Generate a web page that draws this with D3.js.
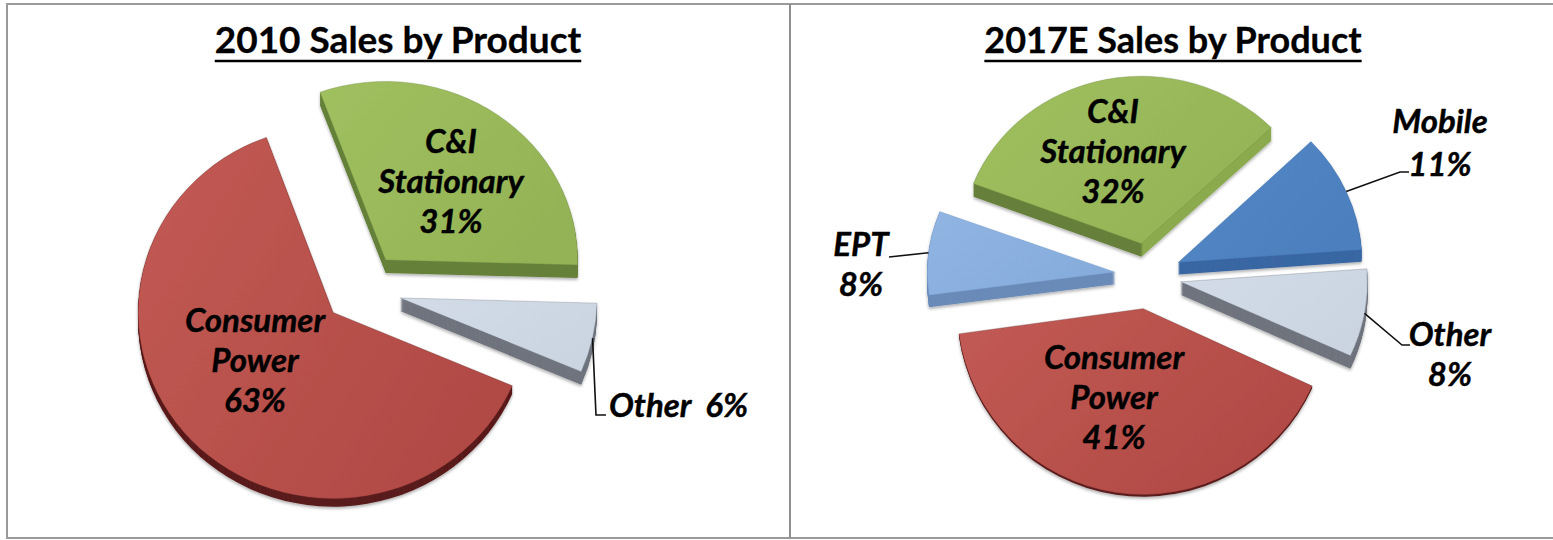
<!DOCTYPE html>
<html>
<head>
<meta charset="utf-8">
<title>Sales by Product</title>
<script src="https://cdn.jsdelivr.net/npm/d3@7"></script>
<style>
    html, body { margin: 0; padding: 0; background: #fff; }
    svg { display: block; }
    .title { font: bold 37px Lato, sans-serif; text-anchor: middle; fill: #000; stroke: #000; stroke-width: 0.3; }
    .label { font: italic bold 33px Lato, sans-serif; text-anchor: middle; fill: #000; stroke: #000; stroke-width: 0.4; }
    .leader { fill: none; stroke: #111; stroke-width: 1.6; }
</style>
</head>
<body>
<svg id="chart" width="1553" height="540"></svg>
<script>
var categories2010 = ['C&I Stationary', 'Other', 'Consumer Power'];
var values2010 = [31, 6, 63];

var categories2017 = ['C&I Stationary', 'Mobile', 'Other', 'Consumer Power', 'EPT'];
var values2017 = [32, 11, 8, 41, 8];

var palette = {
    'C&I Stationary': { light: '#a0c05f', dark: '#93b356', side: '#66803a' },
    'Other': { light: '#d2dbe7', dark: '#cbd5e2', side: '#6f747e' },
    'Consumer Power': { light: '#c25a54', dark: '#b14a45', side: '#5a1b1b' },
    'Mobile': { light: '#5487c6', dark: '#4c7fbd', side: '#3a67a3' },
    'EPT': { light: '#90b5e3', dark: '#86acdc', side: '#6a8bb8' }
};

var svg = d3.select('#chart');
var defs = svg.append('defs');

var shadow = defs.append('filter')
    .attr('id', 'shadow')
    .attr('x', '-10%').attr('y', '-10%')
    .attr('width', '120%').attr('height', '120%');
shadow.append('feDropShadow')
    .attr('dx', 0).attr('dy', 2)
    .attr('stdDeviation', 1.6)
    .attr('flood-color', '#000')
    .attr('flood-opacity', 0.3);

Object.keys(palette).forEach(function(name, i) {
    var gradient = defs.append('linearGradient')
        .attr('id', 'fill' + i)
        .attr('x1', 0).attr('y1', 0)
        .attr('x2', 1).attr('y2', 0.6);
    gradient.append('stop').attr('offset', '0%').attr('stop-color', palette[name].light);
    gradient.append('stop').attr('offset', '100%').attr('stop-color', palette[name].dark);
    palette[name].fill = 'url(#fill' + i + ')';
});

// green side of the right pie: dark under the rim, lighter on the cut face
var greenSide = defs.append('linearGradient').attr('id', 'greenSide');
greenSide.append('stop').attr('offset', '56%').attr('stop-color', '#66803a');
greenSide.append('stop').attr('offset', '57%').attr('stop-color', '#8aaa4e');

// frame round the two panels
svg.append('rect')
    .attr('x', 7).attr('y', 4)
    .attr('width', 1560).attr('height', 534)
    .attr('fill', 'none')
    .attr('stroke', '#9a9a9a')
    .attr('stroke-width', 2);
svg.append('line')
    .attr('x1', 790).attr('x2', 790)
    .attr('y1', 4).attr('y2', 538)
    .attr('stroke', '#8f8f8f')
    .attr('stroke-width', 2);

var drawPie = function(options) {
    var group = svg.append('g');

    var pie = d3.pie()
        .sort(null)
        .startAngle(options.startAngle)
        .endAngle(options.startAngle + 2 * Math.PI);

    var slices = pie(options.values).map(function(d, i) {
        var mid = (d.startAngle + d.endAngle) / 2;
        var shape = options.shapes[i];
        var nudge = shape.nudge || [0, 0];
        return {
            arc: d,
            mid: mid,
            name: options.categories[i],
            shape: shape,
            path: d3.arc().innerRadius(0).outerRadius(shape.radius)(d),
            x: options.cx + options.explode * Math.sin(mid) + nudge[0],
            y: options.cy - options.explode * Math.cos(mid) + nudge[1]
        };
    });

    slices.forEach(function(slice) {
        var colors = palette[slice.name];
        var sliceGroup = group.append('g').attr('filter', 'url(#shadow)');
        var scale = ' scale(1,' + slice.shape.squash + ')';

        // side of the slice: copies of the wedge stacked downwards
        sliceGroup.selectAll('path.side')
            .data(d3.range(slice.shape.depth, 0, -1))
            .join('path')
            .attr('class', 'side')
            .attr('d', slice.path)
            .attr('fill', slice.shape.sideFill || colors.side)
            .attr('transform', function(k) {
                return 'translate(' + slice.x + ',' + (slice.y + k) + ')' + scale;
            });

        sliceGroup.append('path')
            .attr('d', slice.path)
            .attr('fill', colors.fill)
            .attr('stroke', colors.side)
            .attr('stroke-opacity', 0.55)
            .attr('stroke-width', 0.6)
            .attr('transform', 'translate(' + slice.x + ',' + slice.y + ')' + scale);
    });

    // leader lines start on the rim of their slice
    options.leaders.forEach(function(leader) {
        var slice = slices[leader.slice];
        var start = [
            slice.x + slice.shape.radius * Math.sin(slice.mid),
            slice.y - slice.shape.radius * slice.shape.squash * Math.cos(slice.mid)
        ];
        group.append('path')
            .attr('class', 'leader')
            .attr('d', d3.line()([start].concat(leader.points)));
    });

    var title = group.append('text')
        .attr('class', 'title')
        .attr('x', options.titleX)
        .attr('y', 53)
        .style('font-size', options.titleSize + 'px')
        .text(options.title);
    var titleWidth = title.node().getComputedTextLength();
    group.append('line')
        .attr('x1', options.titleX - titleWidth / 2)
        .attr('x2', options.titleX + titleWidth / 2)
        .attr('y1', 61).attr('y2', 61)
        .attr('stroke', '#000')
        .attr('stroke-width', 2.4);

    options.labels.forEach(function(label) {
        var text = group.append('text')
            .attr('class', 'label')
            .attr('x', label.x)
            .attr('y', label.y);
        if (label.anchor) {
            text.style('text-anchor', label.anchor);
        }
        label.lines.forEach(function(line, i) {
            text.append('tspan')
                .attr('x', label.x)
                .attr('dy', i ? 40 : 0)
                .text(line);
        });
    });
};

drawPie({
    title: '2010 Sales by Product',
    titleX: 398,
    titleSize: 37,
    categories: categories2010,
    values: values2010,
    cx: 364, cy: 290,
    explode: 37,
    startAngle: -20 * Math.PI / 180,
    shapes: [
        { radius: 192, squash: 0.93, depth: 13 },
        { radius: 197, squash: 0.95, depth: 13 },
        { radius: 195, squash: 0.955, depth: 8, nudge: [-4, -3] }
    ],
    leaders: [{ slice: 1, points: [[596, 415], [606, 415]] }],
    labels: [
        { x: 451, y: 153, lines: ['C&I', 'Stationary', values2010[0] + '%'] },
        { x: 255, y: 332, lines: ['Consumer', 'Power', values2010[2] + '%'] },
        { x: 609, y: 417, anchor: 'start', lines: ['Other\u00a0\u00a0' + values2010[1] + '%'] }
    ]
});

drawPie({
    title: '2017E Sales by Product',
    titleX: 1173,
    titleSize: 36,
    categories: categories2017,
    values: values2017,
    cx: 1148, cy: 276,
    explode: 33,
    startAngle: -69 * Math.PI / 180,
    shapes: [
        { radius: 180, squash: 0.93, depth: 13, sideFill: 'url(#greenSide)' },
        { radius: 184, squash: 0.95, depth: 12 },
        { radius: 187, squash: 0.95, depth: 13 },
        { radius: 186, squash: 1, depth: 2 },
        { radius: 188, squash: 0.9, depth: 12 }
    ],
    leaders: [
        { slice: 1, points: [[1400, 172], [1409, 172]] },
        { slice: 2, points: [[1402, 345], [1410, 345]] },
        { slice: 4, points: [[889, 257]] }
    ],
    labels: [
        { x: 1113, y: 123, lines: ['C&I', 'Stationary', values2017[0] + '%'] },
        { x: 1440, y: 133, lines: ['Mobile'] },
        { x: 1440, y: 176, lines: [values2017[1] + '%'] },
        { x: 1450, y: 346, lines: ['Other', values2017[2] + '%'] },
        { x: 1114, y: 369, lines: ['Consumer', 'Power', values2017[3] + '%'] },
        { x: 861, y: 256, lines: ['EPT', values2017[4] + '%'] }
    ]
});
</script>
</body>
</html>
